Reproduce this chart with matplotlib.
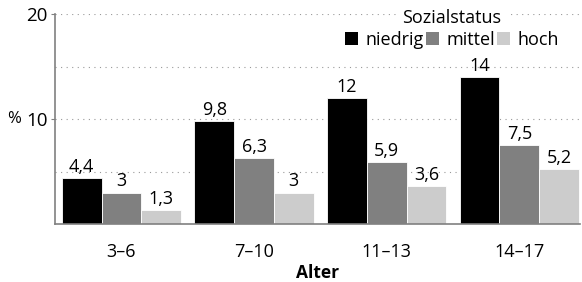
import matplotlib.pyplot as plt
import numpy as np
from matplotlib.patches import Patch

plt.rcParams['font.family'] = ['Open Sans', 'DejaVu Sans']
plt.rcParams['font.size'] = 13

alter = ['3–6', '7–10', '11–13', '14–17']
niedrig = [4.4, 9.8, 12, 14]
mittel = [3, 6.3, 5.9, 7.5]
hoch = [1.3, 3, 3.6, 5.2]
serien = ['niedrig', 'mittel', 'hoch']
farben = ['#000000', '#808080', '#cccccc']

fig = plt.figure(figsize=(5.82, 2.82), dpi=100)
ax = fig.add_axes([0.0937, 0.2057, 0.9033, 0.7443])

x = np.arange(len(alter))
w = 0.3
for i, (werte, farbe, name) in enumerate(zip([niedrig, mittel, hoch], farben, serien)):
    pos = x + (i - 1) * w
    ax.bar(pos, werte, width=w, color=farbe, edgecolor='white', linewidth=0.6, zorder=2)
    for p, v in zip(pos, werte):
        txt = f'{v:g}'.replace('.', ',')
        ax.text(p, v + 0.2, txt, ha='center', va='bottom', fontsize=13, zorder=3)

ax.set_xlim(-0.505, 3.46)
ax.set_ylim(0, 20)
ax.set_yticks([10, 20])
ax.set_yticks([5, 15], minor=True)
ax.yaxis.grid(True, which='both', linestyle=(0, (1, 4)), color='#999999', linewidth=0.8, zorder=0)
ax.set_xticks(x)
ax.set_xticklabels(alter)
ax.tick_params(axis='x', length=0, pad=14, labelsize=13)
ax.tick_params(axis='y', which='major', length=3, color='#808080', pad=2, labelsize=13.5)
ax.tick_params(axis='y', which='minor', length=0)
for s in ['top', 'right']:
    ax.spines[s].set_visible(False)
for s in ['left', 'bottom']:
    ax.spines[s].set_color('#808080')
    ax.spines[s].set_linewidth(1.2)

fig.text(0.012, 1 - 119 / 282, '%', ha='left', va='center', fontsize=12)
fig.text(0.546, 4 / 282, 'Alter', ha='center', va='baseline', fontsize=12.5, fontweight='bold')

handles = [Patch(facecolor=c, edgecolor='none') for c in farben]
leg = ax.legend(handles, serien, title='Sozialstatus', ncol=3, frameon=False,
                loc='upper center', bbox_to_anchor=(452 / 582, 1 + 4 / 282),
                bbox_transform=fig.transFigure, handlelength=0.75, handleheight=0.75,
                handletextpad=0.4, columnspacing=0.1, borderpad=0.2, labelspacing=0.25,
                fontsize=13)
leg.get_title().set_fontsize(13)
leg.get_title().set_backgroundcolor('white')
leg.set_zorder(5)

fig.savefig('out.png', dpi=100)
